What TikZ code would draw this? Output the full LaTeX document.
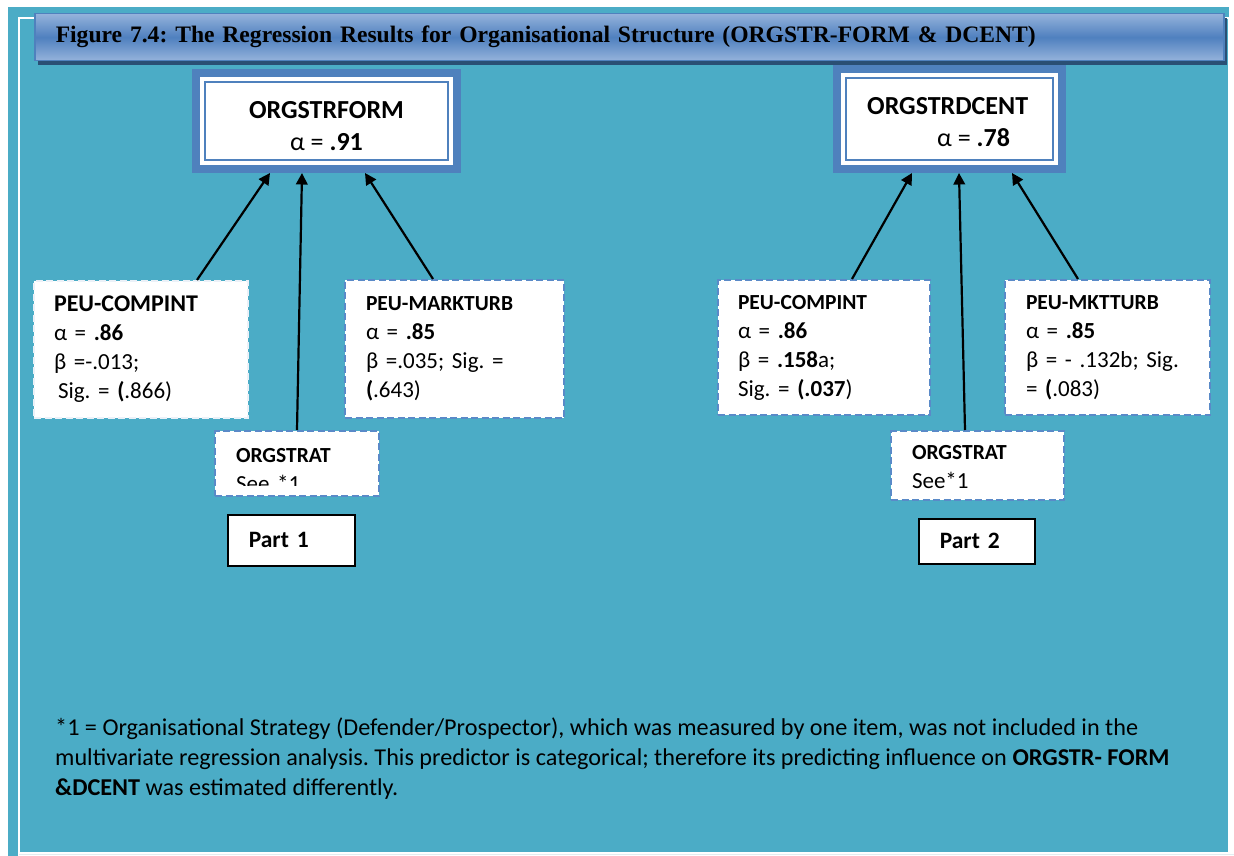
\documentclass[tikz,border=0pt]{standalone}
\usepackage{fontspec}
\setmainfont{Carlito}
\newfontfamily\titlefont{Liberation Serif}
\usetikzlibrary{arrows.meta,shadows}

\definecolor{pageteal}{HTML}{4BACC6}
\definecolor{frameblue}{HTML}{4F81BD}
\definecolor{dashblue}{HTML}{5A8AC8}
\definecolor{bartop}{HTML}{95B3DB}
\definecolor{barmid}{HTML}{4F80BF}
\definecolor{barshadow}{HTML}{2A4F74}
\definecolor{pageline}{HTML}{E2EDF1}

\newcommand\hdfont{\bfseries\fontsize{21.5}{29}\selectfont}
\newcommand\hdbigfont{\bfseries\fontsize{24}{29}\selectfont}

\begin{document}
\frenchspacing
\begin{tikzpicture}[x=1pt,y=-1pt,
  bigbox/.style={draw=frameblue, line width=8pt, fill=white, anchor=north west},
  innerline/.style={draw=frameblue, line width=1.8pt},
  bigtext/.style={font=\bfseries\fontsize{26}{32}\selectfont, inner sep=0pt},
  dbox/.style={draw=dashblue, line width=2pt, dash pattern=on 7pt off 3.5pt,
    fill=white, anchor=north west, align=left, inner ysep=0pt,
    font=\fontsize{23}{29}\selectfont},
  partbox/.style={draw=black, line width=1.6pt, fill=white, anchor=north west,
    align=left, inner ysep=0pt, font=\bfseries\fontsize{23.5}{29}\selectfont},
  arr/.style={line width=2.2pt, -{Triangle[width=11.5pt,length=11.5pt]}},
  note/.style={anchor=base west, inner sep=0pt, font=\fontsize{24.2}{30}\selectfont}
]
\useasboundingbox (0,0) rectangle (1234,856);

% page background and frame
\fill[pageteal] (8,7) rectangle (1229,852);
\fill[pageteal] (8,7) rectangle (18,856);
\draw[white, line width=2.6pt] (19,856) -- (19,18) -- (1229,18) -- (1229,852);
\draw[pageline, line width=1.2pt] (19,854.5) -- (1234,854.5);

% title bar
\node[draw=frameblue, line width=1.5pt,
      top color=bartop, bottom color=bartop, middle color=barmid,
      general shadow={fill=barshadow, shadow xshift=3.5pt, shadow yshift=-4.5pt},
      minimum width=1189pt, minimum height=47pt, text width=1147pt,
      inner xsep=21pt, align=left, anchor=north west,
      font=\titlefont\bfseries\fontsize{23.6}{28}\selectfont] (title) at (34,13)
  {Figure 7.4: The Regression Results for Organisational Structure (ORGSTR-FORM \& DCENT)};

% dependent variables
\node[bigbox, minimum width=261pt, minimum height=96pt] (formbox) at (192,69) {};
\draw[innerline] ([xshift=13pt,yshift=-13pt]formbox.north west) rectangle ([xshift=-13pt,yshift=13pt]formbox.south east);
\node[bigtext, align=center] (formtext) at ([yshift=-5pt]formbox.center)
  {ORGSTRFORM\\\mdseries α = \textbf{.91}};

\node[bigbox, minimum width=225pt, minimum height=100pt] (dcentbox) at (833,65) {};
\draw[innerline] ([xshift=13pt,yshift=-13pt]dcentbox.north west) rectangle ([xshift=-13pt,yshift=13pt]dcentbox.south east);
\node[bigtext, align=left, anchor=west] (dcenttext) at ([xshift=34pt,yshift=-3pt]dcentbox.west)
  {ORGSTRDCENT\\\mdseries\hspace*{70pt}α = \textbf{.78}};

% part 1 predictors
\node[dbox, minimum width=214pt, minimum height=137pt, text width=174pt, inner xsep=19pt,
      draw=white!88!dashblue] (peuA) at (33,280)
  {{\hdbigfont PEU-COMPINT}\\α = \textbf{.86}\\β =-.013;\\\hspace*{4pt}Sig. = \textbf{(}.866)};
\node[dbox, minimum width=219pt, minimum height=138pt, text width=177pt, inner xsep=21pt] (peuB) at (344,279)
  {{\hdfont PEU-MARKTURB}\\α = \textbf{.85}\\β =.035; Sig. =\\\textbf{(}.643)};
\node[dbox, minimum width=164pt, minimum height=65pt, text width=122pt, inner xsep=21pt] (stratA) at (214,430)
  {\rule{0pt}{28pt}{\hdfont ORGSTRAT}\\See *1};
\fill[white] ([xshift=3pt,yshift=-56pt]stratA.north west) rectangle ([xshift=-3pt,yshift=3pt]stratA.south east);
\node[partbox, minimum width=127pt, minimum height=51pt, text width=85pt, inner xsep=21pt] (part1) at (227,514) {Part 1};

% part 2 predictors
\node[dbox, minimum width=212pt, minimum height=135pt, text width=172pt, inner xsep=20pt] (peuC) at (717,279)
  {{\hdfont PEU-COMPINT}\\α = \textbf{.86}\\β = \textbf{.158}a;\\Sig. = \textbf{(.037})};
\node[dbox, minimum width=205pt, minimum height=135pt, text width=163pt, inner xsep=21pt] (peuD) at (1004,279)
  {{\hdfont PEU-MKTTURB}\\α = \textbf{.85}\\β = - .132b; Sig.\\= \textbf{(}.083)};
\node[dbox, minimum width=173pt, minimum height=69pt, text width=131pt, inner xsep=21pt] (stratB) at (890,430)
  {\rule{0pt}{18pt}{\hdfont ORGSTRAT}\\See*1};
\node[partbox, minimum width=116pt, minimum height=45pt, text width=74pt, inner xsep=21pt] (part2) at (918,518) {Part 2};

% regression paths
\draw[arr] ([xshift=164pt]peuA.north west) -- ([xshift=78pt]formbox.south west);
\draw[arr] ([xshift=83pt]stratA.north west) -- ([xshift=110pt]formbox.south west);
\draw[arr] ([xshift=89pt]peuB.north west) -- ([xshift=173pt]formbox.south west);
\draw[arr] ([xshift=135pt]peuC.north west) -- ([xshift=79pt]dcentbox.south west);
\draw[arr] ([xshift=75pt]stratB.north west) -- ([xshift=126pt]dcentbox.south west);
\draw[arr] ([xshift=74pt]peuD.north west) -- ([xshift=179pt]dcentbox.south west);

% footnote
\node[note] (note1) at (55,735) {*1 = Organisational Strategy (Defender/Prospector), which was measured by one item, was not included in the};
\node[note] (note2) at (55,765) {multivariate regression analysis. This predictor is categorical; therefore its predicting influence on \textbf{ORGSTR- FORM}};
\node[note] (note3) at (55,795) {\textbf{\&DCENT} was estimated differently.};
\end{tikzpicture}
\end{document}
